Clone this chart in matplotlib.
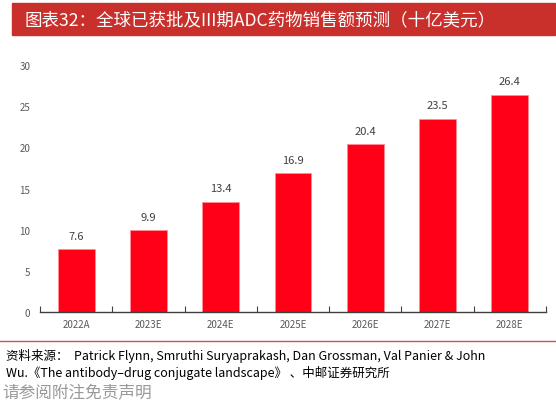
import matplotlib
matplotlib.use("Agg")
import matplotlib.pyplot as plt
from matplotlib.patches import Rectangle
from matplotlib.lines import Line2D

plt.rcParams['font.family'] = ['Noto Sans CJK SC', 'DejaVu Sans']

years = ['2022A', '2023E', '2024E', '2025E', '2026E', '2027E', '2028E']
sales = [7.6, 9.9, 13.4, 16.9, 20.4, 23.5, 26.4]
yticks = [0, 5, 10, 15, 20, 25, 30]

title = '图表32：全球已获批及III期ADC药物销售额预测（十亿美元）'
source = ('资料来源：  Patrick Flynn, Smruthi Suryaprakash, Dan Grossman, Val Panier & John\n'
          'Wu.《The antibody–drug conjugate landscape》 、中邮证券研究所')
note = '请参阅附注免责声明'

fig = plt.figure(figsize=(5.56, 4.14), dpi=100)

# title band
fig.patches.append(Rectangle((12/556, 1-36/414), 543/556, 32/414,
                             transform=fig.transFigure, color='#C9302C', zorder=0))
fig.text(25/556, 1-20/414, title, color='white', fontsize=12.6, va='center', ha='left')

ax = fig.add_axes([40/556, 1-313/414, 506/556, 247/414])
x = range(len(years))
bars = ax.bar(x, sales, width=0.51, color='#FF0016', edgecolor='#FF8C96', linewidth=0.6)
for xi, v in zip(x, sales):
    ax.text(xi, v + 1.0, '%.1f' % v, ha='center', va='bottom', fontsize=8, color='#404040')

ax.set_xlim(-0.5, len(years) - 0.5)
ax.set_ylim(0, 30)
ax.set_yticks(yticks)
ax.set_xticks([i - 0.5 for i in range(len(years) + 1)], minor=False)
ax.set_xticklabels([])
ax.set_xticks(list(x), minor=True)
ax.set_xticklabels(years, minor=True)
ax.tick_params(axis='x', which='major', direction='in', length=4, color='#404040', width=0.8)
ax.tick_params(axis='x', which='minor', length=0, labelsize=7, labelcolor='#595959', pad=5)
ax.tick_params(axis='y', length=0, labelsize=7, labelcolor='#595959', pad=7)
for s in ['top', 'right', 'left']:
    ax.spines[s].set_visible(False)
ax.spines['bottom'].set_color('#404040')
ax.spines['bottom'].set_linewidth(1.0)

# separator + source
fig.lines.append(Line2D([0, 1], [1-342/414, 1-342/414], transform=fig.transFigure,
                        color='#D05050', linewidth=1.0))
fig.text(6/556, 1-349/414, source, fontsize=9, color='black', va='top', ha='left',
         linespacing=1.3)
fig.text(2/556, 1-394/414, note, fontsize=12, color='#999999', va='center', ha='left')

fig.savefig('out.png', dpi=100)
